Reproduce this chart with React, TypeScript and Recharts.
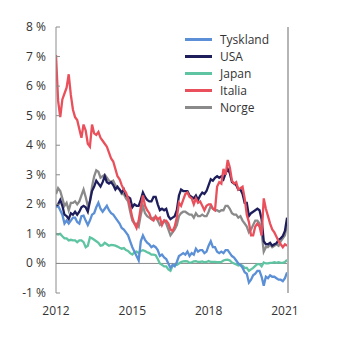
import React from 'react';
import { LineChart, Line, XAxis, YAxis, ReferenceLine, Legend } from 'recharts';

// Monthly observations, Jan 2012 - Feb 2021 (10-year yields, percent)
const years = [2012, 2013, 2014, 2015, 2016, 2017, 2018, 2019, 2020, 2021];
const monthsInLastYear = 2;

const tyskland = [
  1.9, 1.95, 1.8, 1.65, 1.35, 1.45, 1.35, 1.45, 1.55, 1.55, 1.4, 1.35,
  1.6, 1.62, 1.45, 1.3, 1.45, 1.65, 1.7, 1.9, 2.05, 1.85, 1.75, 1.85,
  1.95, 1.8, 1.7, 1.65, 1.55, 1.45, 1.35, 1.2, 1.15, 1.05, 0.95, 0.75,
  0.55, 0.4, 0.25, 0.1, 0.75, 0.95, 0.8, 0.7, 0.65, 0.55, 0.6, 0.55,
  0.45, 0.25, 0.3, 0.2, 0.15, 0.0, -0.15, -0.05, -0.1, 0.05, 0.25, 0.3,
  0.35, 0.3, 0.4, 0.25, 0.35, 0.3, 0.5, 0.4, 0.45, 0.45, 0.35, 0.4,
  0.6, 0.75, 0.55, 0.55, 0.4, 0.35, 0.4, 0.35, 0.45, 0.45, 0.35, 0.25,
  0.2, 0.1, 0.0, -0.05, -0.15, -0.3, -0.35, -0.65, -0.55, -0.4, -0.35, -0.25,
  -0.25, -0.45, -0.75, -0.45, -0.5, -0.4, -0.45, -0.45, -0.5, -0.55, -0.55, -0.6,
  -0.5, -0.3,
];

const usa = [
  1.95, 2.0, 2.15, 1.95, 1.65, 1.6, 1.5, 1.7, 1.65, 1.75, 1.65, 1.75,
  1.9, 1.95, 1.9, 1.75, 2.1, 2.45, 2.6, 2.8, 2.7, 2.6, 2.75, 2.95,
  2.75, 2.7, 2.75, 2.65, 2.5, 2.6, 2.5, 2.4, 2.5, 2.3, 2.25, 2.2,
  1.9, 2.0, 1.95, 1.95, 2.15, 2.4, 2.25, 2.15, 2.1, 2.1, 2.25, 2.25,
  2.0, 1.8, 1.85, 1.8, 1.85, 1.6, 1.5, 1.55, 1.6, 1.8, 2.3, 2.5,
  2.45, 2.45, 2.45, 2.3, 2.25, 2.2, 2.3, 2.15, 2.3, 2.4, 2.35, 2.45,
  2.65, 2.85, 2.8, 2.9, 2.95, 2.9, 2.95, 2.85, 3.05, 3.2, 3.05, 2.75,
  2.7, 2.65, 2.5, 2.5, 2.35, 2.05, 2.05, 1.6, 1.7, 1.75, 1.8, 1.85,
  1.8, 1.5, 0.75, 0.65, 0.65, 0.7, 0.6, 0.65, 0.68, 0.8, 0.85, 0.93,
  1.1, 1.55,
];

const japan = [
  1.0, 0.98, 1.0, 0.92, 0.85, 0.85, 0.78, 0.8, 0.78, 0.78, 0.72, 0.78,
  0.78, 0.72, 0.55, 0.6, 0.88, 0.85, 0.8, 0.75, 0.7, 0.6, 0.62, 0.7,
  0.65, 0.6, 0.63, 0.62, 0.6, 0.57, 0.53, 0.5, 0.52, 0.45, 0.42, 0.35,
  0.3, 0.38, 0.4, 0.35, 0.42, 0.45, 0.42, 0.38, 0.35, 0.3, 0.3, 0.28,
  0.15, 0.0, -0.05, -0.1, -0.1, -0.2, -0.25, -0.08, -0.06, -0.05, 0.0, 0.05,
  0.07, 0.08, 0.07, 0.02, 0.04, 0.07, 0.08, 0.05, 0.05, 0.07, 0.04, 0.05,
  0.08, 0.05, 0.05, 0.05, 0.04, 0.04, 0.05, 0.1, 0.12, 0.13, 0.1, 0.03,
  0.0, -0.03, -0.07, -0.05, -0.08, -0.15, -0.15, -0.25, -0.2, -0.15, -0.08, -0.02,
  -0.02, -0.1, 0.03, 0.0, 0.0, 0.02, 0.02, 0.04, 0.02, 0.04, 0.02, 0.02,
  0.05, 0.12,
];

const italia = [
  7.05, 5.5, 4.95, 5.55, 5.75, 5.95, 6.4, 5.7, 5.2, 4.95, 4.85, 4.55,
  4.25, 4.7, 4.5, 4.05, 3.95, 4.7, 4.4, 4.35, 4.45, 4.25, 4.15, 4.05,
  3.95, 3.75, 3.55, 3.45, 3.2, 2.95, 2.85, 2.65, 2.5, 2.4, 2.2, 1.9,
  1.55, 1.35, 1.2, 1.45, 1.9, 2.3, 1.95, 1.8, 1.7, 1.5, 1.45, 1.6,
  1.5, 1.55, 1.3, 1.45, 1.45, 1.35, 1.15, 1.1, 1.25, 1.55, 2.05, 1.95,
  2.15, 2.35, 2.4, 2.25, 2.2, 2.0, 2.2, 2.05, 2.1, 1.95, 1.8, 1.95,
  2.0, 2.0, 1.85, 1.8, 2.6, 2.75, 2.7, 3.2, 3.0, 3.5, 3.25, 2.8,
  2.7, 2.75, 2.5, 2.55, 2.6, 2.2, 1.65, 1.4, 0.95, 0.95, 1.25, 1.35,
  1.25, 0.95, 2.2, 1.85, 1.6, 1.35, 1.15, 1.05, 0.9, 0.75, 0.65, 0.55,
  0.65, 0.6,
];

const norge = [
  2.35, 2.55, 2.45, 2.2, 1.95, 2.05, 1.8, 2.05, 2.05, 2.1, 2.0, 2.1,
  2.3, 2.5, 2.25, 1.95, 2.1, 2.6, 2.95, 3.15, 3.1, 2.9, 2.95, 3.0,
  2.9, 2.8, 2.75, 2.8, 2.65, 2.55, 2.5, 2.35, 2.35, 2.2, 2.1, 1.75,
  1.45, 1.35, 1.35, 1.25, 1.65, 1.95, 1.7, 1.6, 1.55, 1.5, 1.55, 1.55,
  1.45, 1.3, 1.35, 1.45, 1.35, 1.15, 0.95, 1.05, 1.15, 1.3, 1.6, 1.7,
  1.75, 1.75, 1.7, 1.65, 1.65, 1.55, 1.7, 1.6, 1.6, 1.65, 1.6, 1.6,
  1.75, 1.95, 1.85, 1.8, 1.8, 1.75, 1.8, 1.8, 1.95, 1.95, 1.85, 1.7,
  1.65, 1.65, 1.55, 1.6, 1.45, 1.35, 1.25, 1.05, 1.15, 1.3, 1.45, 1.45,
  1.35, 1.05, 0.4, 0.55, 0.55, 0.65, 0.55, 0.6, 0.65, 0.6, 0.75, 0.85,
  0.95, 1.35,
];

const yTicks = [-1, 0, 1, 2, 3, 4, 5, 6, 7, 8];
const xTicks = [2012, 2015, 2018, 2021];

const series = [
  { key: 'tyskland', name: 'Tyskland', color: '#5b8fd6' },
  { key: 'usa', name: 'USA', color: '#1e1e5c' },
  { key: 'japan', name: 'Japan', color: '#5ec4a2' },
  { key: 'italia', name: 'Italia', color: '#e9505b' },
  { key: 'norge', name: 'Norge', color: '#8a8a8a' },
];

// draw order (last on top)
const drawOrder = ['japan', 'tyskland', 'norge', 'usa', 'italia'];

const data: any[] = [];
years.forEach((year) => {
  const count = year === 2021 ? monthsInLastYear : 12;
  for (let m = 0; m < count; m++) {
    const i = data.length;
    data.push({
      t: year + m / 12,
      tyskland: tyskland[i],
      usa: usa[i],
      japan: japan[i],
      italia: italia[i],
      norge: norge[i],
    });
  }
});

const FONT = '"Open Sans", sans-serif';
const TEXT = '#333333';
const AXIS = '#8c8c8c';

const LeftTick = (props: any) => {
  const { x, y, payload } = props;
  return (
    <g>
      <line x1={x + 10} x2={x + 14} y1={y} y2={y} stroke={AXIS} />
      <text x={x} y={y} dy={4} textAnchor="end" fill={TEXT} fontSize={12} fontFamily={FONT}>
        {payload.value} %
      </text>
    </g>
  );
};

const RightTick = (props: any) => {
  const { x, y, payload } = props;
  return (
    <g>
      <line x1={x - 14} x2={x - 10} y1={y} y2={y} stroke="#b5b5b5" />
      <text x={x} y={y} dy={4} textAnchor="start" fill={TEXT} fontSize={12} fontFamily={FONT}>
        {payload.value} %
      </text>
    </g>
  );
};

const LegendBox = () => (
  <div style={{ fontFamily: FONT, fontSize: 12, color: TEXT }}>
    {series.map((s) => (
      <div key={s.key} style={{ display: 'flex', alignItems: 'center', height: 17 }}>
        <span style={{ display: 'inline-block', width: 27, height: 2.5, background: s.color, marginRight: 8 }} />
        <span>{s.name}</span>
      </div>
    ))}
  </div>
);

export default function App() {
  return (
    <LineChart width={337} height={333} data={data} margin={{ top: 19, right: 0, bottom: 0, left: 0 }}>
      <XAxis
        dataKey="t"
        type="number"
        domain={[2012, 2021.12]}
        ticks={xTicks}
        axisLine={false}
        tickLine={false}
        tickSize={0}
        tickMargin={13}
        height={48}
        tick={{ fill: TEXT, fontSize: 12, fontFamily: FONT }}
        allowDataOverflow
      />
      <YAxis
        yAxisId="left"
        domain={[-1, 8]}
        ticks={yTicks}
        width={48}
        axisLine={{ stroke: AXIS }}
        tickLine={false}
        tickSize={0}
        tickMargin={10}
        tick={<LeftTick />}
        interval={0}
      />
      <YAxis
        yAxisId="right"
        orientation="right"
        domain={[-1, 8]}
        ticks={yTicks}
        width={57}
        axisLine={{ stroke: '#b5b5b5', strokeWidth: 2 }}
        tickLine={false}
        tickSize={0}
        tickMargin={10}
        tick={<RightTick />}
        interval={0}
      />
      <ReferenceLine yAxisId="left" y={0} stroke={AXIS} />
      <Legend
        layout="vertical"
        align="center"
        verticalAlign="middle"
        wrapperStyle={{ left: 177, top: 23, width: 120 }}
        content={() => <LegendBox />}
      />
      {drawOrder.map((k) => {
        const s = series.find((x) => x.key === k)!;
        return (
          <Line
            key={s.key}
            yAxisId="left"
            type="linear"
            dataKey={s.key}
            name={s.name}
            stroke={s.color}
            strokeWidth={2.3}
            dot={false}
            isAnimationActive={false}
          />
        );
      })}
    </LineChart>
  );
}
